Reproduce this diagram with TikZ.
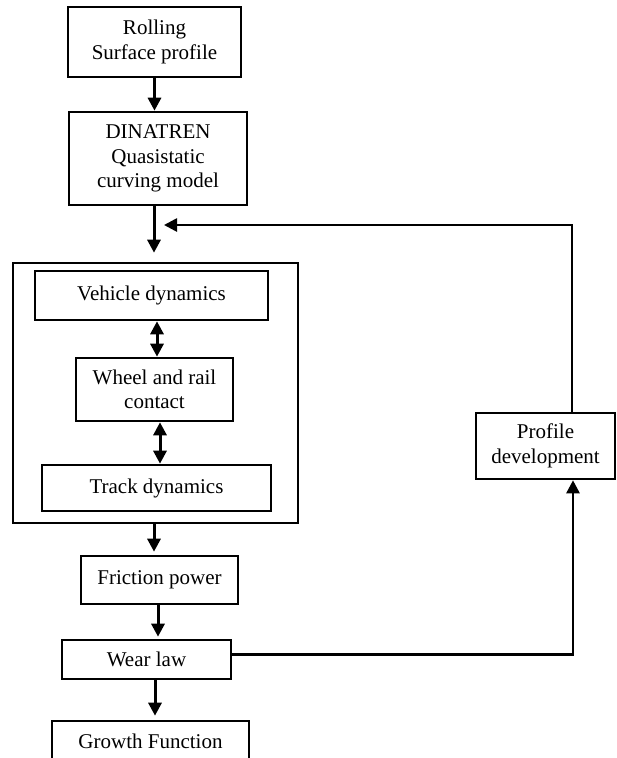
\documentclass[tikz,border=0pt]{standalone}
\usepackage{fontspec}
\setmainfont{Liberation Serif}
\usetikzlibrary{arrows.meta}

\begin{document}
\begin{tikzpicture}[x=1pt, y=-1pt,
    box/.style={draw, line width=2.6pt, align=center, inner sep=0pt,
        font=\fontsize{21}{24.5}\selectfont},
    arr/.style={-{Triangle[length=13pt, width=13pt]}, line width=3pt},
    biarr/.style={{Triangle[length=13pt, width=13pt]}-{Triangle[length=13pt, width=13pt]}, line width=3pt},
    link/.style={line width=2.6pt}]
    \useasboundingbox (0,0) rectangle (617,758);
    \clip (0,0) rectangle (617,758);
    % main chain
    \node[box, minimum width=173pt, minimum height=70pt] (roll) at (154.5,42) {Rolling\\Surface profile};
    \node[box, minimum width=178pt, minimum height=93pt] (dina) at (158,158.5) {DINATREN\\Quasistatic\\curving model};
    \node[box, minimum width=285pt, minimum height=260pt] (sys) at (155.5,393) {};
    \node[box, minimum width=233pt, minimum height=49pt] (veh) at (151.5,295.5) {Vehicle dynamics};
    \node[box, minimum width=157pt, minimum height=63pt] (whl) at (154.5,389.5) {Wheel and rail\\contact};
    \node[box, minimum width=229pt, minimum height=46pt] (trk) at (156.5,488) {Track dynamics};
    \node[box, minimum width=157pt, minimum height=48pt] (fric) at (159.5,580) {Friction power};
    \node[box, minimum width=169pt, minimum height=39pt] (wear) at (146.5,659.5) {Wear law};
    \node[box, minimum width=197pt, minimum height=40pt] (grow) at (150.5,741) {Growth Function};
    \node[box, minimum width=139pt, minimum height=66pt] (prof) at (545.5,446) {Profile\\development};
    \coordinate (fb) at (164,225);
    % arrows
    \draw[arr] (roll.south) -- (roll.south |- dina.north);
    \draw[arr, shorten >=9pt] ([xshift=-4pt]dina.south) -- ([xshift=-4pt]dina.south |- sys.north);
    \draw[biarr] ([xshift=2.5pt]whl.north |- veh.south) -- ([xshift=2.5pt]whl.north);
    \draw[biarr] ([xshift=5.5pt]whl.south) -- ([xshift=5.5pt]whl.south |- trk.north);
    \draw[arr, shorten >=3pt] ([xshift=-1.5pt]sys.south) -- ([xshift=-1.5pt]sys.south |- fric.north);
    \draw[arr, shorten >=2pt] ([xshift=-1.5pt]fric.south) -- ([xshift=-1.5pt]fric.south |- wear.north);
    \draw[arr, shorten >=4pt] ([xshift=8.5pt]wear.south) -- ([xshift=8.5pt]wear.south |- grow.north);
    % feedback loop
    \draw[link, -{Triangle[length=13pt, width=13pt]}] ([yshift=5pt]wear.east) -| ([xshift=27.5pt]prof.south);
    \draw[link, -{Triangle[length=13pt, width=13pt]}] ([xshift=26.5pt]prof.north) |- (fb);
\end{tikzpicture}
\end{document}
